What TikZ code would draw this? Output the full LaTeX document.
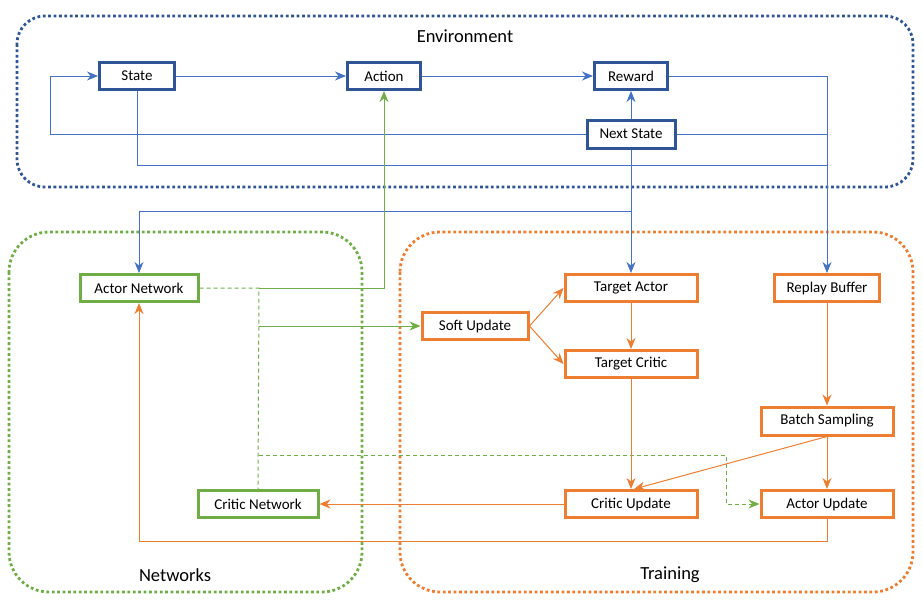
\documentclass[tikz,border=0pt]{standalone}
\usepackage{fontspec}
\setmainfont{Carlito}
\usetikzlibrary{arrows.meta}
\definecolor{envblue}{HTML}{2F5597}
\definecolor{lineblue}{HTML}{4472C4}
\definecolor{netgreen}{HTML}{70AD47}
\definecolor{trorange}{HTML}{ED7D31}
\begin{document}
\begin{tikzpicture}[x=1pt,y=-1pt,
  box/.style={draw,line width=3pt,fill=white,inner sep=0pt,minimum height=27pt,font=\fontsize{15}{17}\selectfont,text=black},
  bbox/.style={box,draw=envblue},
  gbox/.style={box,draw=netgreen},
  obox/.style={box,draw=trorange},
  cont/.style={line width=2.8pt,dash pattern=on 2.8pt off 2.6pt},
  title/.style={font=\fontsize{18.5}{21}\selectfont,text=black},
  tip/.style={-{Stealth[length=11pt,width=9pt,inset=3.5pt]}},
  bl/.style={draw=lineblue,line width=1pt},
  gl/.style={draw=netgreen,line width=1pt},
  ol/.style={draw=trorange,line width=1pt},
  gd/.style={gl,dash pattern=on 4pt off 3pt}]
\useasboundingbox (0,0) rectangle (923,606);
% containers
\draw[cont,draw=envblue,rounded corners=28pt] (17,16) rectangle (913,187);
\draw[cont,draw=netgreen,rounded corners=40pt] (9,232) rectangle (362,592);
\draw[cont,draw=trorange,rounded corners=40pt] (400,232) rectangle (913,592);
\node[title] (tenv) at (465,36) {Environment};
\node[title] (tnet) at (175,575) {Networks};
\node[title] (ttr) at (670,575) {Training};
% nodes
\node[bbox,minimum width=75pt] (state) at (137,76) {State};
\node[bbox,minimum width=73pt] (action) at (384,76) {Action};
\node[bbox,minimum width=73pt] (reward) at (631,76) {Reward};
\node[bbox,minimum width=88pt,minimum height=28pt] (next) at (631,134) {Next State};
\node[gbox,minimum width=118pt] (actor) at (139,288) {Actor Network};
\node[gbox,minimum width=120pt] (critic) at (258,504) {Critic Network};
\node[obox,minimum width=106pt] (soft) at (475,326) {Soft Update};
\node[obox,minimum width=132pt] (tactor) at (631,288) {Target Actor};
\node[obox,minimum width=132pt] (tcritic) at (631,364) {Target Critic};
\node[obox,minimum width=105pt] (replay) at (827,288) {Replay Buffer};
\node[obox,minimum width=132pt,minimum height=28pt] (batch) at (827,421) {Batch Sampling};
\node[obox,minimum width=132pt] (cupd) at (631,504) {Critic Update};
\node[obox,minimum width=132pt] (aupd) at (827,504) {Actor Update};
% helper coordinates
\coordinate (jA) at (259,288);
\coordinate (jS) at (259,326);
\coordinate (jC) at (259,455);
\coordinate (jR) at (726,455);
\coordinate (bx) at (827,165);
\coordinate (nx) at (631,211);
% blue connectors
\draw[bl,tip] (state.east) -- (action.west);
\draw[bl,tip] (action.east) -- (reward.west);
\draw[bl,tip] (next.north) -- (reward.south);
\draw[bl,tip] (next.west) -- (50,134) |- (state.west);
\draw[bl] (state.south) |- (bx);
\draw[bl] (reward.east) -| (bx);
\draw[bl] (next.east) -| (bx);
\draw[bl,tip] (bx) -- (replay.north);
\draw[bl,tip] (next.south) -- (tactor.north);
\draw[bl,tip] (nx) -| (actor.north);
% green connectors
\draw[gl,tip] (jA) -| (action.south);
\draw[gd] (actor.east) -- (jA) -- (critic.north);
\draw[gl,tip] (jS) -- (soft.west);
\draw[gd,tip] (jC) -- (jR) |- (aupd.west);
% orange connectors
\draw[ol,tip] (soft.east) -- (tactor.west);
\draw[ol,tip] (soft.east) -- (tcritic.west);
\draw[ol,tip] (tactor.south) -- (tcritic.north);
\draw[ol,tip] (tcritic.south) -- (cupd.north);
\draw[ol,tip] (replay.south) -- (batch.north);
\draw[ol,tip] (batch.south) -- (aupd.north);
\draw[ol,tip] (batch.south) -- ([xshift=3pt]cupd.north);
\draw[ol,tip] (cupd.west) -- (critic.east);
\draw[ol,tip] (aupd.south) |- (139,541) -- (actor.south);
\end{tikzpicture}
\end{document}
